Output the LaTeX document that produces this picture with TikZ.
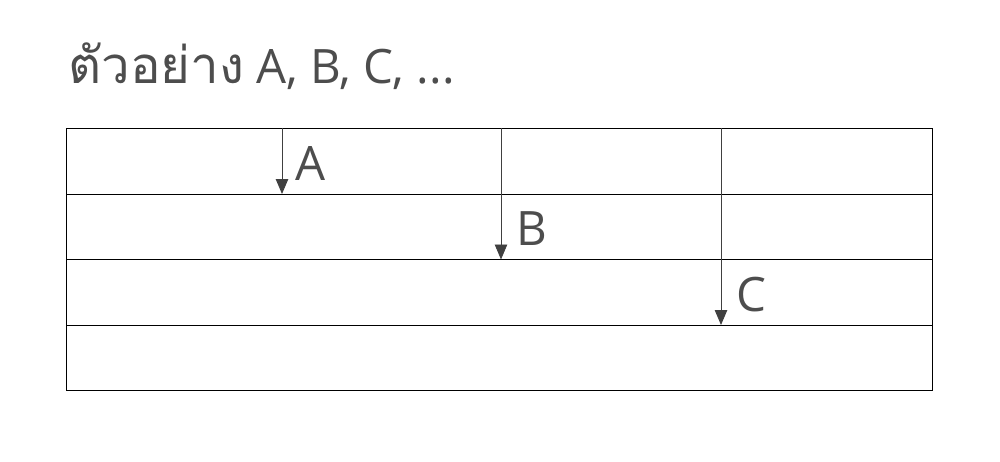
\documentclass[tikz,border=0pt]{standalone}
\usepackage{fontspec}
\setmainfont{Open Sans}
\newfontfamily\thaifont[Script=Thai]{Loma}
\usetikzlibrary{arrows.meta, positioning}
\definecolor{ink}{HTML}{4D4D4D}
\definecolor{rule}{HTML}{404040}

\begin{document}
\begin{tikzpicture}[x=0.02cm, y=-0.02cm,
    grid/.style={draw=black, line width=0.5pt},
    drop/.style={draw=rule, line width=0.5pt,
                 -{Triangle[length=3mm, width=2.5mm]}},
    lbl/.style={font=\fontsize{27}{32}\selectfont, text=ink, anchor=base west,
                inner sep=0pt}
  ]
  \useasboundingbox (0,0) rectangle (1000,462);

  \node[lbl] (title) at (68,84) {{\thaifont\fontsize{29}{32}\selectfont ตัวอย่าง} A, B, C, ...};

  % table
  \draw[grid] (66,128) rectangle (932,390);
  \draw[grid] (66,194) -- (932,194);
  \draw[grid] (66,259.5) -- (932,259.5);
  \draw[grid] (66,325) -- (932,325);

  % arrows
  \coordinate (ta) at (282,128);
  \coordinate (ea) at (282,194);
  \coordinate (tb) at (501,128);
  \coordinate (eb) at (501,259.5);
  \coordinate (tc) at (721,128);
  \coordinate (ec) at (721,325);
  \draw[drop] (ta) -- (ea);
  \draw[drop] (tb) -- (eb);
  \draw[drop] (tc) -- (ec);

  \node[lbl] (a) at (295,181) {A};
  \node[lbl] (b) at (516,246) {B};
  \node[lbl] (c) at (736,312) {C};
\end{tikzpicture}
\end{document}
